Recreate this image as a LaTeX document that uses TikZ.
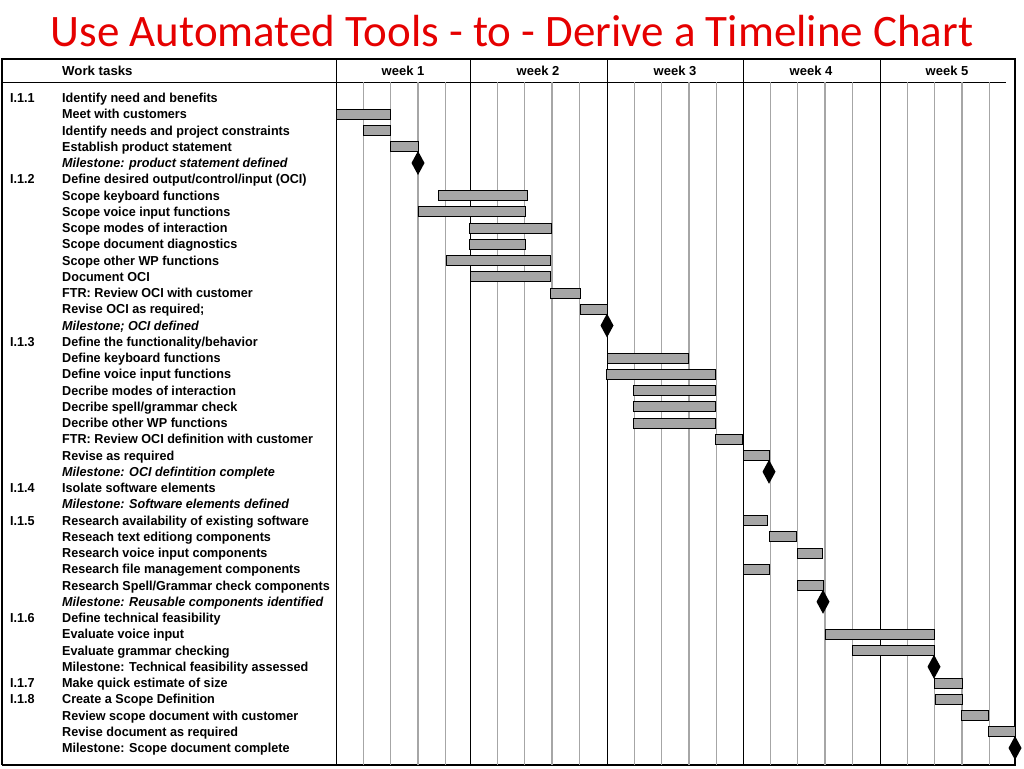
\documentclass[tikz,border=0pt]{standalone}
\usepackage{fontspec}
\setmainfont{Liberation Sans}
\newfontfamily\titlefont{Carlito}
\begin{document}
\begin{tikzpicture}[x=1pt, y=-1pt,
  task/.style={anchor=base west, inner sep=0pt, font=\fontsize{13}{14}\selectfont\bfseries, xscale=0.97},
  milestone/.style={task, font=\fontsize{13}{14}\selectfont\bfseries\itshape},
  bar/.style={draw=black, fill=black!35, line width=1pt},
  daygrid/.style={black!35, line width=1.4pt},
  weekgrid/.style={black, line width=1pt}]
  % Frame
  \useasboundingbox (0,0) rectangle (1024,768);
  \node[text=red!90!black, font=\titlefont\fontsize{45}{48}\selectfont] (title) at (512,31) {Use Automated Tools - to - Derive a Timeline Chart};
  \draw[line width=1.2pt] (2,765) -- (2,59) -- (1015,59) -- (1015,765) -- (2,765);
  \draw[line width=1pt] (2,82) -- (336,82);
  \draw[line width=1pt] (336,82) -- (1006,82);

  % Day lines and week lines
  \foreach \w in {336,470,607,743,880}
    \foreach \d in {1,...,4}
      \draw[daygrid] (\w+\d*27.3,82) -- (\w+\d*27.3,765);
  \foreach \w in {336,470,607,743,880}
    \draw[weekgrid] (\w,59) -- (\w,765);

  % Header
  \node[task, xscale=1.05] (hwork) at (62,75.5) {Work tasks};
  \foreach \n/\c in {1/403,2/538,3/675,4/811,5/947}
    \node[font=\fontsize{13}{14}\selectfont\bfseries, anchor=base] (hw\n) at (\c,75.5) {week \n};

  % Work tasks
  \foreach \i/\t in {1/{Identify need and benefits}, 2/{Meet with customers}, 3/{Identify needs and project constraints},
    4/{Establish product statement}, 6/{Define desired output/control/input (OCI)}, 7/{Scope keyboard functions},
    8/{Scope voice input functions}, 9/{Scope modes of interaction}, 10/{Scope document diagnostics},
    11/{Scope other WP functions}, 12/{Document  OCI}, 13/{FTR:  Review OCI with customer}, 14/{Revise OCI as required;},
    16/{Define the functionality/behavior}, 17/{Define keyboard functions}, 18/{Define voice input functions},
    19/{Decribe modes of interaction}, 20/{Decribe spell/grammar check}, 21/{Decribe other WP functions},
    22/{FTR:  Review OCI definition with customer}, 23/{Revise as required}, 25/{Isolate software elements},
    27/{Research availability of existing software}, 28/{Reseach text editiong components},
    29/{Research voice input components}, 30/{Research file management components},
    31/{Research Spell/Grammar check components}, 33/{Define technical feasibility}, 34/{Evaluate voice input},
    35/{Evaluate grammar checking}, 36/{Milestone:  Technical feasibility assessed}, 37/{Make quick estimate of size},
    38/{Create a Scope Definition}, 39/{Review scope document with customer}, 40/{Revise document as required},
    41/{Milestone:  Scope document complete}}
    \node[task] (t\i) at (62,{98+(\i-1)*16.25+4.5}) {\t};
  \foreach \i/\t in {5/{Milestone:  product statement defined}, 15/{Milestone; OCI defined},
    24/{Milestone:  OCI defintition complete}, 26/{Milestone:  Software elements defined},
    32/{Milestone:  Reusable components identified}}
    \node[milestone] (t\i) at (62,{98+(\i-1)*16.25+4.5}) {\t};

  % Section codes
  \foreach \i/\c in {1/I.1.1, 6/I.1.2, 16/I.1.3, 25/I.1.4, 27/I.1.5, 33/I.1.6, 37/I.1.7, 38/I.1.8}
    \node[task] (c\i) at (10,{98+(\i-1)*16.25+4.5}) {\c};

  % Bars
  \foreach \i/\a/\b in {2/336/390, 3/363/390, 4/390/418, 7/438/527, 8/418/525, 9/469/551, 10/469/525,
    11/446/550, 12/470/550, 13/550/580, 14/580/607, 17/607/688, 18/606/715, 19/633/715, 20/633/715,
    21/633/715, 22/715/742, 23/743/769, 27/743/767, 28/769/796, 29/797/822, 30/743/769, 31/797/823,
    34/825/934, 35/852/934, 37/934/962, 38/935/962, 39/961/988, 40/988/1015}
    \draw[bar] (\a,{98+(\i-1)*16.25-5}) rectangle (\b,{98+(\i-1)*16.25+5});

  % Milestones
  \foreach \i/\x in {5/418, 15/607, 24/769, 32/823, 36/934, 41/1015}
    \fill (\x,{98+(\i-1)*16.25-12}) -- (\x+6.5,{98+(\i-1)*16.25}) -- (\x,{98+(\i-1)*16.25+12})
      -- (\x-6.5,{98+(\i-1)*16.25}) -- cycle;
\end{tikzpicture}
\end{document}
